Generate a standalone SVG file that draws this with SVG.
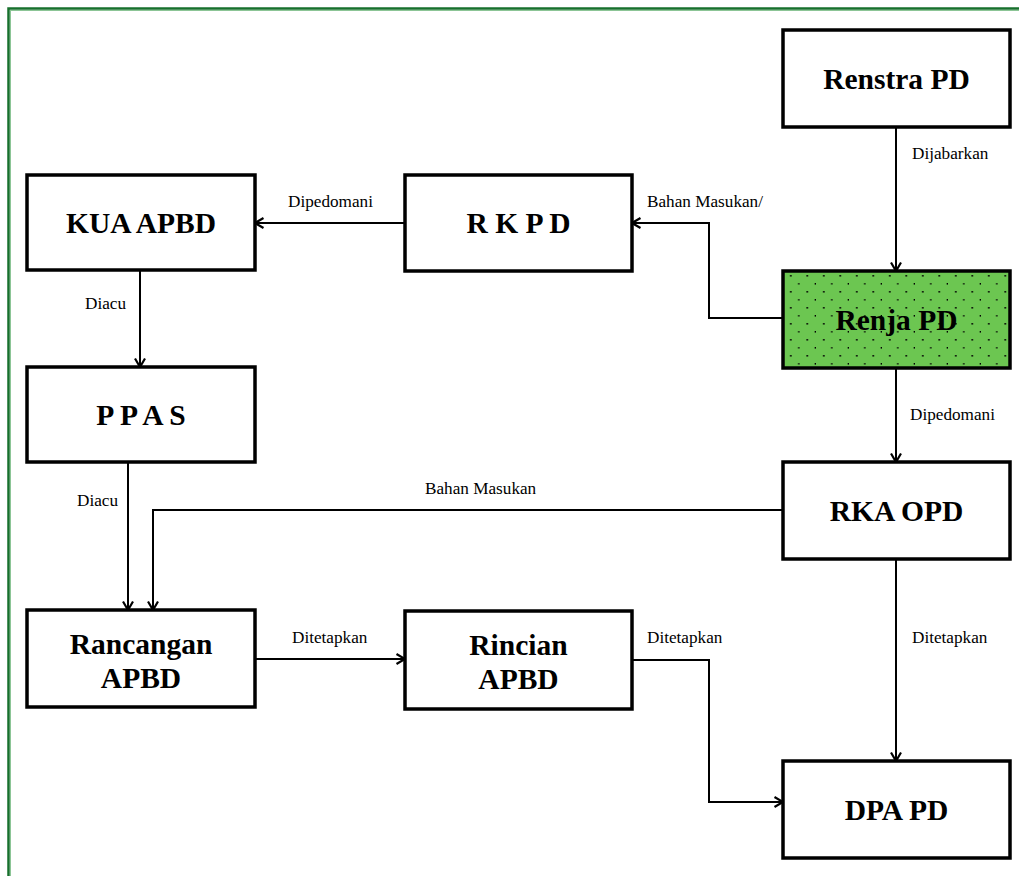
<svg xmlns="http://www.w3.org/2000/svg" width="1019" height="876" viewBox="0 0 1019 876">
<style>
.box{fill:#ffffff;stroke:#000000;stroke-width:3.5}
.t{font-family:'Liberation Serif',Tinos,'DejaVu Serif',serif;font-weight:bold;font-size:29.5px;fill:#000000;text-anchor:middle}
.lb{font-family:'Liberation Serif',Tinos,'DejaVu Serif',serif;font-size:17.2px;fill:#000000}
.c{fill:none;stroke:#000000;stroke-width:2;marker-end:url(#ah)}
</style>
<defs>
<marker id="ah" viewBox="0 0 12 12" markerWidth="12" markerHeight="12" refX="10.5" refY="6" orient="auto" markerUnits="userSpaceOnUse">
<path d="M2,1 L10.5,6 L2,11" fill="none" stroke="#000000" stroke-width="2.2"/>
</marker>
<pattern id="dots" x="783" y="271" width="16.5" height="16" patternUnits="userSpaceOnUse">
<rect x="0" y="0" width="16.5" height="16" fill="#6cc651"/>
<rect x="7" y="4" width="1.6" height="1.6" fill="#000000"/>
<rect x="15.2" y="12" width="1.6" height="1.6" fill="#000000"/>
</pattern>
</defs>
<rect x="0" y="0" width="1019" height="876" fill="#ffffff"/>
<rect x="8.5" y="8.5" width="1030" height="890" fill="none" stroke="#17702c" stroke-width="2.5"/>
<rect x="10.5" y="10.5" width="1030" height="890" fill="none" stroke="#8cc596" stroke-width="1"/>

<g id="connectors">
<path class="c" d="M896,127 L896,271"/>
<path class="c" d="M783,318 L709,318 L709,223 L632,223"/>
<path class="c" d="M405,223 L255,223"/>
<path class="c" d="M140,270 L140,367"/>
<path class="c" d="M128,462 L128,610"/>
<path class="c" d="M783,510 L153,510 L153,610"/>
<path class="c" d="M896,368 L896,462"/>
<path class="c" d="M896,560 L896,761"/>
<path class="c" d="M255,659 L405,659"/>
<path class="c" d="M632,660 L709,660 L709,802 L783,802"/>
<text class="lb" x="912" y="159">Dijabarkan</text>
<text class="lb" x="647" y="207">Bahan Masukan/</text>
<text class="lb" x="288" y="207">Dipedomani</text>
<text class="lb" x="85" y="309">Diacu</text>
<text class="lb" x="77" y="506">Diacu</text>
<text class="lb" x="425" y="494">Bahan Masukan</text>
<text class="lb" x="910" y="420">Dipedomani</text>
<text class="lb" x="912" y="643">Ditetapkan</text>
<text class="lb" x="292" y="643">Ditetapkan</text>
<text class="lb" x="647" y="643">Ditetapkan</text>
</g>

<g id="renstra">
<rect class="box" x="783" y="30" width="227" height="97"/>
<text class="t" x="896.5" y="89">Renstra PD</text>
</g>
<g id="kua">
<rect class="box" x="27" y="175" width="228" height="95"/>
<text class="t" x="141" y="233">KUA APBD</text>
</g>
<g id="rkpd">
<rect class="box" x="405" y="175" width="227" height="96"/>
<text class="t" x="518.5" y="233">R K P D</text>
</g>
<g id="renja">
<rect class="box" x="783" y="271" width="227" height="97" style="fill:url(#dots)"/>
<text class="t" x="896.5" y="330">Renja PD</text>
</g>
<g id="ppas">
<rect class="box" x="27" y="367" width="228" height="95"/>
<text class="t" x="141" y="425">P P A S</text>
</g>
<g id="rka">
<rect class="box" x="783" y="462" width="227" height="97"/>
<text class="t" x="896.5" y="521">RKA OPD</text>
</g>
<g id="rancangan">
<rect class="box" x="27" y="610" width="228" height="97"/>
<text class="t" x="141" y="654">Rancangan</text>
<text class="t" x="141" y="688">APBD</text>
</g>
<g id="rincian">
<rect class="box" x="405" y="611" width="227" height="98"/>
<text class="t" x="518.5" y="655">Rincian</text>
<text class="t" x="518.5" y="689">APBD</text>
</g>
<g id="dpa">
<rect class="box" x="783" y="761" width="227" height="97"/>
<text class="t" x="896.5" y="820">DPA PD</text>
</g>
</svg>
